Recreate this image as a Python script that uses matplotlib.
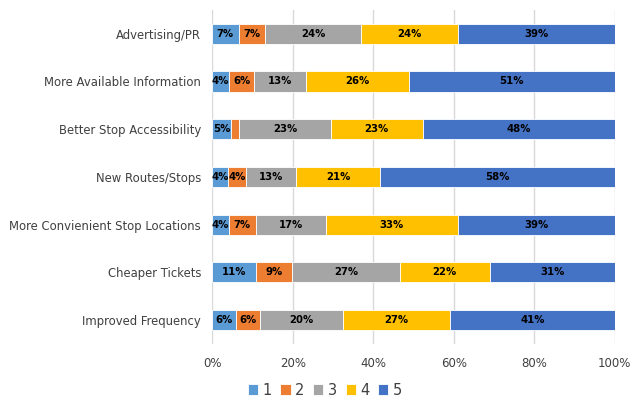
import matplotlib
matplotlib.use("Agg")
import matplotlib.pyplot as plt
import numpy as np

categories = [
    "Advertising/PR",
    "More Available Information",
    "Better Stop Accessibility",
    "New Routes/Stops",
    "More Convienient Stop Locations",
    "Cheaper Tickets",
    "Improved Frequency",
]
series_names = ["1", "2", "3", "4", "5"]
s1 = [6.6, 4.1, 4.6, 4.0, 4.2, 11.0, 6.0]
s2 = [6.6, 6.4, 2.2, 4.3, 6.6, 8.9, 6.0]
s3 = [23.8, 12.8, 22.7, 12.6, 17.4, 26.7, 20.4]
s4 = [24.0, 25.6, 22.8, 20.9, 32.8, 22.3, 26.7]
s5 = [39.0, 51.1, 47.7, 58.2, 39.0, 31.1, 40.9]
colors = ["#5B9BD5", "#ED7D31", "#A5A5A5", "#FFC000", "#4472C4"]
xticks = [0, 20, 40, 60, 80, 100]

plt.rcParams["font.family"] = ["DejaVu Sans"]

fig = plt.figure(figsize=(6.37, 4.12), dpi=100)
ax = fig.add_axes([0.333, 0.165, 0.632, 0.811])

data = np.array([s1, s2, s3, s4, s5])
ypos = np.arange(len(categories))
left = np.zeros(len(categories))
for name, vals, col in zip(series_names, data, colors):
    ax.barh(ypos, vals, left=left, height=0.42, color=col, label=name,
            edgecolor="white", linewidth=0.6, zorder=3)
    for y, v, l in zip(ypos, vals, left):
        if v >= 3:
            ax.text(l + v / 2, y, f"{v:.0f}%", ha="center", va="center",
                    fontsize=7.3, fontweight="bold", color="black", zorder=4)
    left += vals

ax.set_xlim(0, 100)
ax.set_ylim(len(categories) - 0.5, -0.5)
ax.set_yticks(ypos)
ax.set_yticklabels(categories, fontsize=8.4, color="#404040")
ax.set_xticks(xticks)
ax.set_xticklabels([f"{t}%" for t in xticks], fontsize=8.5, color="#404040")
ax.tick_params(axis="both", length=0)
ax.tick_params(axis="x", pad=9)
ax.tick_params(axis="y", pad=8)
ax.grid(axis="x", color="#D9D9D9", linewidth=1, zorder=0)
for sp in ax.spines.values():
    sp.set_visible(False)

fig.legend(loc="center", bbox_to_anchor=(0.51, 0.053), ncol=5, frameon=False,
           fontsize=10.5, handlelength=0.7, handleheight=0.7, handletextpad=0.3,
           columnspacing=0.6, labelcolor="#404040")

fig.savefig("out.png", dpi=100)
